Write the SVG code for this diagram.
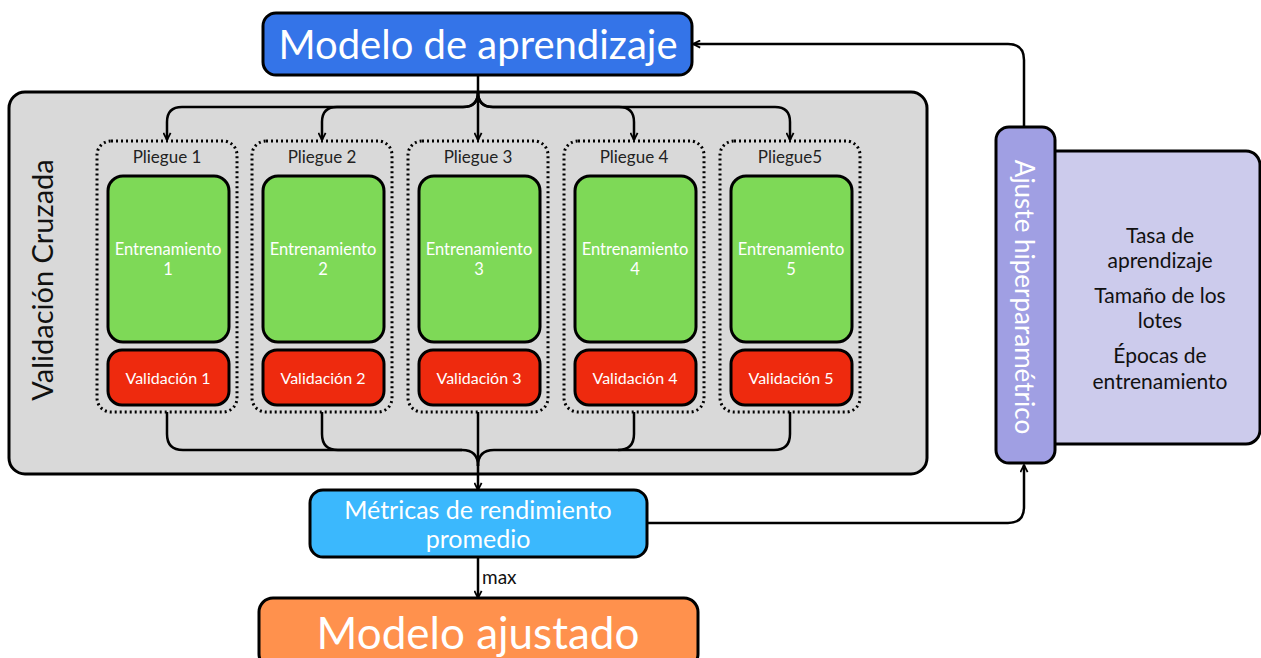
<svg xmlns="http://www.w3.org/2000/svg" width="1261" height="658" viewBox="0 0 1261 658">
<defs>
<marker id="ah" viewBox="0 0 10 10" refX="9" refY="5" markerWidth="9" markerHeight="9" markerUnits="userSpaceOnUse" orient="auto">
<path d="M1,1 L9,5 L1,9" fill="none" stroke="#000" stroke-width="2"/>
</marker>
<style>
text{font-family:Lato,"Open Sans",sans-serif;text-anchor:middle;}
.box{stroke:#000;stroke-width:3;}
.fold{fill:none;stroke:#000;stroke-width:3;stroke-dasharray:2 3;}
.tr{fill:#7ed957;}
.va{fill:#ee2a0e;}
.wt{fill:#fff;}
.lbl{font-size:17px;fill:#222;}
.en{font-size:16.5px;fill:#fff;}
.vl{font-size:16px;fill:#fff;}
.hp{font-size:21px;fill:#111;}
.c{fill:none;stroke:#000;stroke-width:2.5;}
</style>
</defs>
<rect width="1261" height="658" fill="#fff"/>

<g id="cv">
<rect x="9" y="92" width="918" height="382" rx="16" fill="#d9d9d9" class="box"/>
<text transform="translate(53,280) rotate(-90)" font-size="29" fill="#111">Validación Cruzada</text>
</g>

<g id="hp-list">
<rect x="1040" y="151" width="220" height="293" rx="14" fill="#cccbec" class="box"/>
<text x="1160" y="243" class="hp">Tasa de</text>
<text x="1160" y="268" class="hp">aprendizaje</text>
<text x="1160" y="303" class="hp">Tamaño de los</text>
<text x="1160" y="328" class="hp">lotes</text>
<text x="1160" y="363" class="hp">Épocas de</text>
<text x="1160" y="389" class="hp">entrenamiento</text>
</g>

<g id="connectors">
<path class="c" d="M478,75 V140" marker-end="url(#ah)"/>
<path class="c" d="M478,92 Q478,107 463,107 H182 Q167,107 167,122 V140" marker-end="url(#ah)"/>
<path class="c" d="M478,92 Q478,107 463,107 H337 Q322,107 322,122 V140" marker-end="url(#ah)"/>
<path class="c" d="M478,92 Q478,107 493,107 H619 Q634,107 634,122 V140" marker-end="url(#ah)"/>
<path class="c" d="M478,92 Q478,107 493,107 H775 Q790,107 790,122 V140" marker-end="url(#ah)"/>
<path class="c" d="M478,412 V490" marker-end="url(#ah)"/>
<path class="c" d="M167,412 V434 Q167,450 183,450 H462 Q478,450 478,466"/>
<path class="c" d="M322,412 V434 Q322,450 338,450 H462"/>
<path class="c" d="M634,412 V434 Q634,450 618,450 H494 Q478,450 478,466"/>
<path class="c" d="M790,412 V434 Q790,450 774,450 H618"/>
<path class="c" d="M478,557 V598" marker-end="url(#ah)"/>
<text x="482" y="584" font-size="19" fill="#111" style="text-anchor:start">max</text>
<path class="c" d="M647,523 H1008 Q1024,523 1024,507 V465" marker-end="url(#ah)"/>
<path class="c" d="M1024,127 V60 Q1024,44 1008,44 H693" marker-end="url(#ah)"/>
</g>

<g id="modelo">
<rect x="263" y="13" width="429" height="62" rx="13" fill="#3474e8" class="box"/>
<text x="478" y="59" font-size="40" class="wt">Modelo de aprendizaje</text>
</g>

<g id="fold1">
<rect x="97" y="141" width="140" height="271" rx="14" class="fold"/>
<text x="167" y="163" class="lbl">Pliegue 1</text>
<rect x="108" y="176" width="121" height="166" rx="15" class="box tr"/>
<text x="168" y="255" class="en">Entrenamiento</text>
<text x="168" y="275" class="en">1</text>
<rect x="108" y="350" width="121" height="55" rx="14" class="box va"/>
<text x="168" y="384" class="vl">Validación 1</text>
</g>
<g id="fold2">
<rect x="252" y="141" width="140" height="271" rx="14" class="fold"/>
<text x="322" y="163" class="lbl">Pliegue 2</text>
<rect x="263" y="176" width="121" height="166" rx="15" class="box tr"/>
<text x="323" y="255" class="en">Entrenamiento</text>
<text x="323" y="275" class="en">2</text>
<rect x="263" y="350" width="121" height="55" rx="14" class="box va"/>
<text x="323" y="384" class="vl">Validación 2</text>
</g>
<g id="fold3">
<rect x="408" y="141" width="140" height="271" rx="14" class="fold"/>
<text x="478" y="163" class="lbl">Pliegue 3</text>
<rect x="419" y="176" width="121" height="166" rx="15" class="box tr"/>
<text x="479" y="255" class="en">Entrenamiento</text>
<text x="479" y="275" class="en">3</text>
<rect x="419" y="350" width="121" height="55" rx="14" class="box va"/>
<text x="479" y="384" class="vl">Validación 3</text>
</g>
<g id="fold4">
<rect x="564" y="141" width="140" height="271" rx="14" class="fold"/>
<text x="634" y="163" class="lbl">Pliegue 4</text>
<rect x="575" y="176" width="121" height="166" rx="15" class="box tr"/>
<text x="635" y="255" class="en">Entrenamiento</text>
<text x="635" y="275" class="en">4</text>
<rect x="575" y="350" width="121" height="55" rx="14" class="box va"/>
<text x="635" y="384" class="vl">Validación 4</text>
</g>
<g id="fold5">
<rect x="720" y="141" width="140" height="271" rx="14" class="fold"/>
<text x="790" y="163" class="lbl">Pliegue5</text>
<rect x="731" y="176" width="121" height="166" rx="15" class="box tr"/>
<text x="791" y="255" class="en">Entrenamiento</text>
<text x="791" y="275" class="en">5</text>
<rect x="731" y="350" width="121" height="55" rx="14" class="box va"/>
<text x="791" y="384" class="vl">Validación 5</text>
</g>

<g id="metricas">
<rect x="310" y="490" width="337" height="67" rx="13" fill="#3bb8fd" class="box"/>
<text x="478" y="519" font-size="25" class="wt">Métricas de rendimiento</text>
<text x="478" y="548" font-size="25" class="wt">promedio</text>
</g>

<g id="ajustado">
<rect x="259" y="598" width="439" height="70" rx="14" fill="#ff914d" class="box"/>
<text x="478" y="649" font-size="44" class="wt">Modelo ajustado</text>
</g>

<g id="ajuste">
<rect x="996" y="127" width="59" height="336" rx="13" fill="#a09fe3" class="box"/>
<text transform="translate(1015,297) rotate(90)" font-size="26" class="wt">Ajuste hiperparamétrico</text>
</g>
</svg>
